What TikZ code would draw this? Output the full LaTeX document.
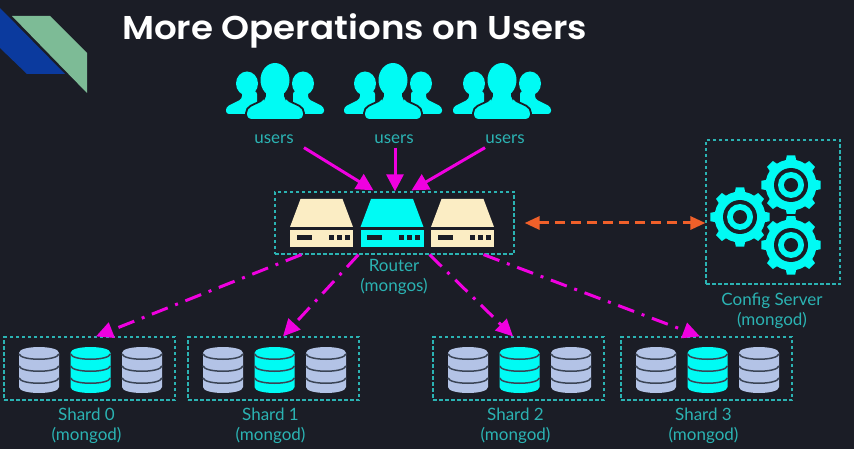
\documentclass[tikz,border=0pt]{standalone}
\usepackage{fontspec}
\setmainfont{Lato}
\newfontfamily\titlefont{Poppins SemiBold}[BoldFont={Poppins SemiBold}]
\usetikzlibrary{arrows.meta}
\definecolor{bg}{HTML}{1B1D26}
\definecolor{cy}{HTML}{00FBF4}
\definecolor{teal}{HTML}{2BB3B3}
\definecolor{cream}{HTML}{FBEDC4}
\definecolor{lav}{HTML}{B3C3E6}
\definecolor{mag}{HTML}{F000E0}
\definecolor{org}{HTML}{F0602A}
\definecolor{darkline}{HTML}{3A4455}
\definecolor{logoblue}{HTML}{0B3A9E}
\definecolor{logogreen}{HTML}{7DBB96}
\tikzset{
  x=1pt,y=-1pt,
  groupbox/.style={draw=teal,line width=1.2pt,inner sep=0pt,dash pattern=on 3.5pt off 2.5pt},
  lbl/.style={text=teal,font=\fontsize{17}{20}\selectfont,align=center,inner sep=0pt},
  req/.style={draw=mag,line width=3pt,-{Triangle[length=17pt,width=17pt]}},
  fan/.style={draw=mag,line width=3pt,dash pattern=on 17pt off 8pt on 3pt off 8pt,-{Triangle[length=17pt,width=16pt]}},
  cfg/.style={draw=org,line width=3pt,dash pattern=on 10pt off 6pt,{Triangle[length=15pt,width=13pt]}-{Triangle[length=15pt,width=13pt]}},
  pics/person/.style={code={
    % left person
    \fill[cy] (-28,20.5) ellipse (11 and 12);
    \fill[cy,rounded corners=3pt] (-33,28) -- (-33,36) -- (-49,44) -- (-49,51) -- (-18,51) -- (-18,28) -- cycle;
    % right person
    \fill[cy] (28,20.5) ellipse (11 and 12);
    \fill[cy,rounded corners=3pt] (33,28) -- (33,36) -- (49,44) -- (49,51) -- (18,51) -- (18,28) -- cycle;
    % main person with a dark edge
    \fill[cy,draw=bg,line width=1.8pt,rounded corners=5pt] (-10,28) -- (-10,36) -- (-29,45) -- (-29,57) -- (29,57) -- (29,45) -- (10,36) -- (10,28) -- cycle;
    \fill[cy] (0,17) ellipse (14.5 and 17);
    \fill[cy] (-9,26) rectangle (9,40);
  }},
  pics/server/.style={code={
    \fill[#1] (-21,0) -- (21,0) -- (31.5,28) -- (-31.5,28) -- cycle;
    \fill[#1] (-31.5,31) rectangle (31.5,48);
    \fill[bg] (-25,36.5) rectangle (-10,41.5);
    \fill[bg] (7,36.5) rectangle (12,41.5);
    \fill[bg] (15,36.5) rectangle (20,41.5);
    \fill[bg] (23,36.5) rectangle (28,41.5);
  }},
  pics/dbstack/.style={code={
    \fill[#1] (-20,6) -- (-20,40) .. controls (-20,48) and (20,48) .. (20,40) -- (20,6) .. controls (20,-2) and (-20,-2) .. (-20,6) -- cycle;
    \draw[darkline,line width=1.5pt] (-20,7) .. controls (-18,14) and (18,14) .. (20,7);
    \draw[darkline,line width=1.5pt] (-20,19) .. controls (-18,26) and (18,26) .. (20,19);
    \draw[darkline,line width=1.5pt] (-20,31) .. controls (-18,38) and (18,38) .. (20,31);
  }},
  pics/gear/.style={code={
    \fill[cy] (0,0) circle (25.5);
    \foreach \a in {0,45,...,315}{
      \fill[cy] (\a-12:25) -- (\a-8:30) -- (\a+8:30) -- (\a+12:25) -- cycle;
    }
    \fill[bg] (0,0) circle (17);
    \fill[cy] (0,0) circle (13);
    \fill[bg] (0,0) circle (7);
  }},
}
\begin{document}
\begin{tikzpicture}
\useasboundingbox (0,0) rectangle (854,449);
\fill[bg] (0,0) rectangle (854,449);
% corner logo
\fill[logoblue] (0,8) -- (65,74) -- (27,74) -- (0,48) -- cycle;
\fill[logogreen] (12,16) -- (50,16) -- (87,53) -- (87,93) -- cycle;
\node[anchor=west,text=white,inner sep=0pt,font=\titlefont\fontsize{33}{36}\selectfont] (title) at (122,31) {\scalebox{1.08}[1]{More Operations on Users}};

% users
\pic at (275,63) {person};
\pic at (393,63) {person};
\pic at (502,63) {person};
\node[lbl] (ua) at (274,139) {users};
\node[lbl] (ub) at (394,139) {users};
\node[lbl] (uc) at (505,139) {users};

% router
\node[groupbox,minimum width=239pt,minimum height=62pt] (router) at (394.5,223) {};
\pic at (321.5,199) {server=cream};
\pic at (392,199) {server=cy};
\pic at (462.5,199) {server=cream};
\node[lbl] (routerlbl) at (394,277) {Router\\(mongos)};

% config
\node[groupbox,minimum width=134pt,minimum height=144pt] (config) at (773,212) {};
\fill[cy] (788.5,205) rectangle (793.5,225);
\pic at (740,217) {gear};
\pic at (791,185) {gear};
\pic at (791,245) {gear};
\fill[bg] (783,214.5) rectangle (799,216);
\node[lbl] (configlbl) at (772,311) {Config Server\\(mongod)};

% shards
\foreach \n/\c/\t in {s0/89.5/Shard 0,s1/273.5/Shard 1,s2/518.5/Shard 2,s3/706.5/Shard 3}{
  \node[groupbox,minimum width=171pt,minimum height=63pt] (\n) at (\c,368.5) {};
  \pic at (\c-50.5,347) {dbstack=lav};
  \pic at (\c+1,347) {dbstack=cy};
  \pic at (\c+52.5,347) {dbstack=lav};
  \node[lbl] (\n l) at (\c-3,425.5) {\t\\(mongod)};
}

% connectors
\draw[req] ([xshift=30pt,yshift=-4pt]ua.south) -- ([xshift=-21pt,yshift=1pt]router.north);
\draw[req] ([yshift=-4pt,xshift=1pt]ub.south) -- ([xshift=.5pt]router.north);
\draw[req] ([xshift=-20pt,yshift=-4pt]uc.south) -- ([xshift=17pt,yshift=1pt]router.north);
\draw[fan] ([xshift=-93pt]router.south) -- ([xshift=6.5pt]s0.north);
\draw[fan] ([xshift=-36pt]router.south) -- ([xshift=9.5pt]s1.north);
\draw[fan] ([xshift=35pt]router.south) -- ([xshift=-5.5pt]s2.north);
\draw[fan] ([xshift=89pt]router.south) -- ([xshift=-6.5pt]s3.north);
\draw[cfg] (router.east |- 0,223) ++(10,0) -- (config.west |- 0,223);
\end{tikzpicture}
\end{document}
